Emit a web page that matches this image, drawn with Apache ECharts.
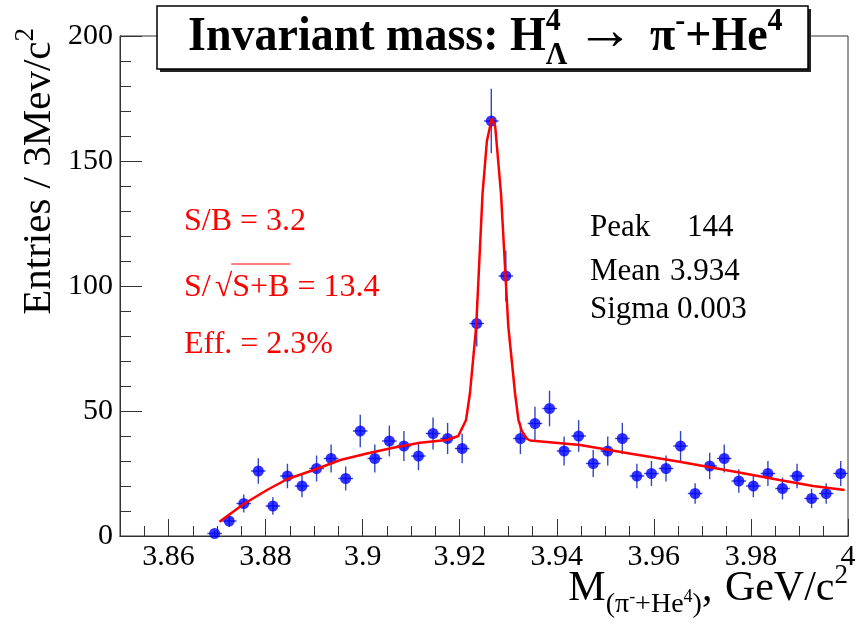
<!DOCTYPE html>
<html>
<head>
<meta charset="utf-8">
<script src="https://cdn.jsdelivr.net/npm/echarts@6/dist/echarts.min.js"></script>
<style>
html, body { margin: 0; padding: 0; background: #fff; }
#main { width: 864px; height: 635px; }
</style>
</head>
<body>
<div id="main"></div>
<script>
// histogram: 3 MeV bins, only the non-empty ones
var BIN_W = 0.003;
var binCenters = [3.8695, 3.8725, 3.8755, 3.8785, 3.8815, 3.8845, 3.8875, 3.8905, 3.8935, 3.8965,
                  3.8995, 3.9025, 3.9055, 3.9085, 3.9115, 3.9145, 3.9175, 3.9205, 3.9235, 3.9265,
                  3.9295, 3.9325, 3.9355, 3.9385, 3.9415, 3.9445, 3.9475, 3.9505, 3.9535, 3.9565,
                  3.9595, 3.9625, 3.9655, 3.9685, 3.9715, 3.9745, 3.9775, 3.9805, 3.9835, 3.9865,
                  3.9895, 3.9925, 3.9955, 3.9985];
var counts = [1, 6, 13, 26, 12, 24, 20, 27, 31, 23,
              42, 31, 38, 36, 32, 41, 39, 35, 85, 166,
              104, 39, 45, 51, 34, 40, 29, 34, 39, 24,
              25, 27, 36, 17, 28, 31, 22, 20, 25, 19,
              24, 15, 17, 25];

// fit curve
var fitX = [3.8705, 3.8755, 3.8803, 3.8844, 3.8899, 3.8954, 3.9009, 3.9063, 3.9118, 3.9173,
            3.9197, 3.9213, 3.9221, 3.9234, 3.9247, 3.9256, 3.9266, 3.9273, 3.9285, 3.9300,
            3.9314, 3.9321, 3.9328, 3.9338, 3.9345, 3.9448, 3.9550, 3.9653, 3.9756, 3.9859,
            3.9928, 3.9993];
var fitY = [5.7, 12.8, 18.4, 22.7, 26.4, 30.4, 33.0, 35.3, 37.3, 38.4,
            40.0, 46.4, 57, 84, 137, 158, 167, 164, 137, 84,
            57, 46.4, 42, 39, 38.2, 36.4, 33.0, 29.7, 26.1, 22.4,
            20.0, 18.4];

var xMajor = [3.86, 3.88, 3.9, 3.92, 3.94, 3.96, 3.98, 4];
var statNames = ['Peak', 'Mean', 'Sigma'];
var statValues = ['144', '3.934', '0.003'];

var FONT = '"Liberation Serif", "DejaVu Serif", serif';
var ctx = document.createElement('canvas').getContext('2d');
function fontOf(p) { return (p.bold ? 'bold ' : '') + p.size + 'px ' + FONT; }

// lay a row of text pieces along a baseline; returns group + piece offsets
function textRun(pieces, x, y, align, color, rotation) {
  var total = 0;
  pieces.forEach(function (p) {
    ctx.font = fontOf(p);
    p.w = ctx.measureText(p.t).width;
    total += p.w + (p.gap || 0);
  });
  var cx = align === 'right' ? -total : 0;
  var offs = [];
  var kids = pieces.map(function (p) {
    if (p.at != null) cx = p.at;
    offs.push(x + cx);
    var el = {
      type: 'text', x: cx, y: 0.17 * p.size + (p.dy || 0), z: 20, scaleY: p.sy || 1,
      style: { text: p.t, font: fontOf(p), fill: p.color || color, align: 'left', verticalAlign: 'bottom' }
    };
    cx += p.w + (p.gap || 0);
    return el;
  });
  return { group: { type: 'group', x: x, y: y, rotation: rotation || 0, children: kids }, offs: offs };
}

var graphics = [];

// title box with shadow
graphics.push({ type: 'rect', z: 18, shape: { x: 160, y: 9, width: 651, height: 63 }, style: { fill: '#222' } });
graphics.push({ type: 'rect', z: 19, shape: { x: 157, y: 6, width: 651, height: 63 }, style: { fill: '#fff', stroke: '#000', lineWidth: 1.5 } });
var T = 46, TS = 1.05;
graphics.push(textRun([
  { t: 'Invariant mass: H', size: T, bold: true, sy: TS },
  { t: '4', size: 30, bold: true, dy: -21, gap: -15, sy: TS },
  { t: 'Λ', size: 30, bold: true, dy: 13, sy: TS },
  { t: '→', size: 58, at: 388, dy: -1 },
  { t: 'π', size: T, bold: true, at: 462, sy: TS },
  { t: '-', size: 30, bold: true, dy: -21, sy: TS },
  { t: '+He', size: T, bold: true, sy: TS },
  { t: '4', size: 30, bold: true, dy: -21, sy: TS }
], 188, 54, 'left', '#000').group);

// red annotations
var R = 32, red = '#ff0000';
graphics.push(textRun([{ t: 'S/B = 3.2', size: R }], 184, 232, 'left', red).group);
var sq = textRun([
  { t: 'S/', size: R, gap: 4 },
  { t: '√', size: R },
  { t: 'S+B', size: R },
  { t: ' = 13.4', size: R }
], 184, 298, 'left', red);
graphics.push(sq.group);
graphics.push({ type: 'line', z: 20, shape: { x1: sq.offs[2] - 1, y1: 264, x2: sq.offs[3] + 1, y2: 264 }, style: { stroke: red, lineWidth: 1 } });
graphics.push(textRun([{ t: 'Eff. = 2.3%', size: R }], 184, 355, 'left', red).group);

// fit statistics
var statBase = [238, 282, 320];
var statValX = [687, 670, 677];
statNames.forEach(function (n, i) {
  graphics.push(textRun([{ t: n, size: 31 }], 590, statBase[i], 'left', '#000').group);
  graphics.push(textRun([{ t: statValues[i], size: 31 }], statValX[i], statBase[i], 'left', '#000').group);
});

// axis titles
graphics.push(textRun([
  { t: 'M', size: 42 },
  { t: '(π', size: 28, dy: 11 },
  { t: '-', size: 18, dy: 0 },
  { t: '+He', size: 28, dy: 11 },
  { t: '4', size: 18, dy: 0 },
  { t: ')', size: 28, dy: 11 },
  { t: ',', size: 42, gap: 2 },
  { t: ' GeV/c', size: 42 },
  { t: '2', size: 27, dy: -18 }
], 848, 603, 'right', '#000').group);
graphics.push(textRun([
  { t: 'Entries / 3Mev/c', size: 41 },
  { t: '2', size: 27, dy: -18 }
], 53, 28, 'right', '#000', Math.PI / 2).group);

var chart = echarts.init(document.getElementById('main'));
var axisLine = { lineStyle: { color: '#333', width: 1 } };
chart.setOption({
  animation: false,
  backgroundColor: '#fff',
  grid: { left: 120, right: 16, top: 36, bottom: 99, show: true, borderColor: '#333', borderWidth: 1, backgroundColor: 'transparent' },
  xAxis: [
    { type: 'value', min: 3.85, max: 4.0, interval: 0.005, axisLine: axisLine,
      axisTick: { inside: true, length: 10, lineStyle: { color: '#333' } },
      axisLabel: { show: false }, splitLine: { show: false } },
    { type: 'value', min: 3.85, max: 4.0, position: 'bottom', axisLine: axisLine,
      axisTick: { inside: true, length: 17, customValues: xMajor, lineStyle: { color: '#333' } },
      axisLabel: { customValues: xMajor, fontFamily: FONT, fontSize: 30, color: '#000', margin: 6,
        formatter: function (v) { return Math.abs(v - 4) < 1e-9 ? '{e|4}' : String(+v.toFixed(2)); },
        rich: { e: { fontFamily: FONT, fontSize: 30, color: '#000', padding: [0, 0, 12, 0] } } },
      splitLine: { show: false } }
  ],
  yAxis: {
    type: 'value', min: 0, max: 200, interval: 50, axisLine: axisLine,
    axisTick: { inside: true, length: 22, lineStyle: { color: '#333' } },
    minorTick: { show: true, splitNumber: 5, length: 11, lineStyle: { color: '#333' } },
    axisLabel: { fontFamily: FONT, fontSize: 30, color: '#000', margin: 7 },
    splitLine: { show: false }, minorSplitLine: { show: false }
  },
  series: [
    {
      type: 'custom', xAxisIndex: 0, z: 2,
      data: binCenters.map(function (x, i) { return [x, counts[i]]; }),
      renderItem: function (params, api) {
        var x = api.value(0), n = api.value(1), e = Math.sqrt(n);
        var c = api.coord([x, n]);
        var hi = api.coord([x, n + e]), lo = api.coord([x, Math.max(0, n - e)]);
        var l = api.coord([x - BIN_W / 2, n]), r = api.coord([x + BIN_W / 2, n]);
        var st = { stroke: '#3346c4', lineWidth: 1.4 };
        return { type: 'group', children: [
          { type: 'line', shape: { x1: c[0], y1: hi[1], x2: c[0], y2: lo[1] }, style: st },
          { type: 'line', shape: { x1: l[0], y1: c[1], x2: r[0], y2: c[1] }, style: st }
        ] };
      }
    },
    {
      type: 'scatter', xAxisIndex: 0, z: 3, symbol: 'circle', symbolSize: 11,
      itemStyle: { color: '#0000ff' },
      data: binCenters.map(function (x, i) { return [x, counts[i]]; })
    },
    {
      type: 'line', xAxisIndex: 0, z: 4, symbol: 'none', smooth: false,
      lineStyle: { color: '#ff0000', width: 2.5 },
      data: fitX.map(function (x, i) { return [x, fitY[i]]; })
    }
  ],
  graphic: graphics
});
</script>
</body>
</html>
